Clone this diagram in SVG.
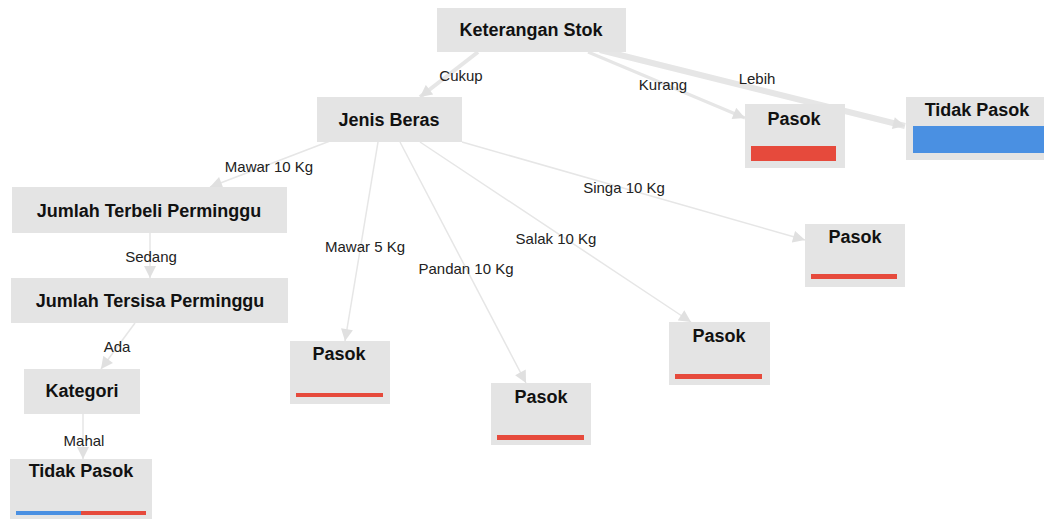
<svg xmlns="http://www.w3.org/2000/svg" width="1044" height="519" viewBox="0 0 1044 519">
<style>
.box{fill:#e4e4e4}
.t{font-family:"Liberation Sans",Arial,sans-serif;font-weight:bold;font-size:18px;fill:#111;text-anchor:middle}
.l{font-family:"Liberation Sans",Arial,sans-serif;font-size:15px;fill:#222;text-anchor:middle}
.e{stroke:#e6e6e6;fill:none}
.red{fill:#e64a3c}
.blue{fill:#4a90e2}
</style>
<defs>
<marker id="ah" viewBox="0 0 10 10" refX="10" refY="5" markerWidth="13" markerHeight="12" markerUnits="userSpaceOnUse" orient="auto">
<path d="M0,0 L10,5 L0,10 Z" fill="#e0e0e0"/>
</marker>
</defs>
<g id="connectors">
<path class="e" stroke-width="4" d="M478,52 L420,97" marker-end="url(#ah)"/>
<path class="e" stroke-width="3" d="M588,52 L745,118" marker-end="url(#ah)"/>
<path class="e" stroke-width="6" d="M600,50 L905,126" marker-end="url(#ah)"/>
<path class="e" stroke-width="1.5" d="M330,141 L210,187" marker-end="url(#ah)"/>
<path class="e" stroke-width="1.5" d="M378,142 L345,341" marker-end="url(#ah)"/>
<path class="e" stroke-width="1.5" d="M400,142 L526,383" marker-end="url(#ah)"/>
<path class="e" stroke-width="1.5" d="M420,142 L691,322" marker-end="url(#ah)"/>
<path class="e" stroke-width="1.5" d="M462,142 L805,240" marker-end="url(#ah)"/>
<path class="e" stroke-width="1.5" d="M150,233 L150,278" marker-end="url(#ah)"/>
<path class="e" stroke-width="1.5" d="M135,323 L101,369" marker-end="url(#ah)"/>
<path class="e" stroke-width="1.5" d="M83,414 L83,459" marker-end="url(#ah)"/>
<text class="l" x="461" y="81">Cukup</text>
<text class="l" x="663" y="90">Kurang</text>
<text class="l" x="757" y="84">Lebih</text>
<text class="l" x="269" y="172">Mawar 10 Kg</text>
<text class="l" x="365" y="252">Mawar 5 Kg</text>
<text class="l" x="466" y="274">Pandan 10 Kg</text>
<text class="l" x="556" y="244">Salak 10 Kg</text>
<text class="l" x="624" y="193">Singa 10 Kg</text>
<text class="l" x="151" y="262">Sedang</text>
<text class="l" x="117" y="352">Ada</text>
<text class="l" x="84" y="446">Mahal</text>
</g>
<g id="keterangan-stok"><rect class="box" x="437" y="8" width="189" height="44"/><text class="t" x="531" y="36">Keterangan Stok</text></g>
<g id="jenis-beras"><rect class="box" x="317" y="97" width="145" height="45"/><text class="t" x="389" y="126">Jenis Beras</text></g>
<g id="pasok-kurang"><rect class="box" x="745" y="104" width="100" height="64"/><text class="t" x="794" y="125">Pasok</text><rect class="red" x="751" y="146" width="85" height="15"/></g>
<g id="tidak-pasok-lebih"><rect class="box" x="906" y="97" width="138" height="63"/><text class="t" x="977" y="116">Tidak Pasok</text><rect class="blue" x="913" y="126" width="131" height="27"/></g>
<g id="jumlah-terbeli"><rect class="box" x="12" y="187" width="275" height="46"/><text class="t" x="149" y="217">Jumlah Terbeli Perminggu</text></g>
<g id="jumlah-tersisa"><rect class="box" x="11" y="278" width="277" height="45"/><text class="t" x="150" y="307">Jumlah Tersisa Perminggu</text></g>
<g id="kategori"><rect class="box" x="24" y="369" width="116" height="45"/><text class="t" x="82" y="397">Kategori</text></g>
<g id="tidak-pasok-mahal"><rect class="box" x="10" y="459" width="142" height="60"/><text class="t" x="81" y="477">Tidak Pasok</text><rect class="blue" x="16" y="511" width="65" height="4"/><rect class="red" x="81" y="511" width="65" height="4"/></g>
<g id="pasok-mawar5"><rect class="box" x="290" y="341" width="100" height="63"/><text class="t" x="339" y="360">Pasok</text><rect class="red" x="296" y="393" width="87" height="4"/></g>
<g id="pasok-pandan"><rect class="box" x="491" y="383" width="100" height="62"/><text class="t" x="541" y="403">Pasok</text><rect class="red" x="497" y="435" width="87" height="5"/></g>
<g id="pasok-salak"><rect class="box" x="669" y="322" width="101" height="63"/><text class="t" x="719" y="342">Pasok</text><rect class="red" x="675" y="374" width="87" height="5"/></g>
<g id="pasok-singa"><rect class="box" x="805" y="224" width="100" height="63"/><text class="t" x="855" y="243">Pasok</text><rect class="red" x="811" y="274" width="86" height="5"/></g>
</svg>
